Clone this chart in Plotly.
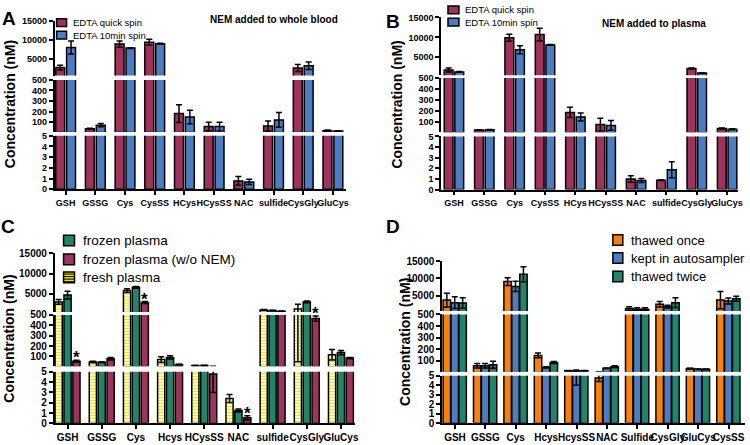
import plotly.graph_objects as go

W, H = 750, 445
FONT = "Liberation Sans, Arial, sans-serif"

# ---------------- data ----------------
cats_AB = ["GSH", "GSSG", "Cys", "CysSS", "HCys", "HCysSS", "NAC", "sulfide", "CysGly", "GluCys"]

a_quick = [2600, 37, 8800, 9300, 180, 58, 0.78, 62, 2500, 18]
a_quick_err = [600, 3, 800, 800, 85, 40, 0.4, 48, 900, 6]
a_10min = [7900, 70, 7750, 8900, 148, 58, 0.68, 120, 3100, 14]
a_10min_err = [1700, 15, 80, 100, 65, 40, 0.25, 70, 1000, 4]

b_quick = [1800, 26, 9900, 10700, 186, 76, 1.0, 0.88, 2200, 38]
b_quick_err = [500, 2, 900, 1600, 47, 57, 0.3, 0.03, 100, 6]
b_10min = [1350, 27, 6900, 8100, 144, 67, 0.86, 1.86, 1050, 32]
b_10min_err = [100, 2, 1000, 100, 36, 45, 0.18, 0.75, 80, 4]

cats_C = ["GSH", "GSSG", "Cys", "Hcys", "HCysSS", "NAC", "sulfide", "CysGly", "GluCys"]
c_fresh = [3000, 47, 5800, 70, 12, 2.42, 1000, 1250, 116]
c_fresh_err = [600, 8, 480, 28, 2, 0.38, 150, 1200, 50]
c_frozen = [4700, 45, 6600, 91, 14, 1.25, 850, 3000, 137]
c_frozen_err = [950, 3, 200, 15, 2, 0.14, 60, 200, 20]
c_nonem = [55, 79, 2850, 23, 4.8, 0.54, 700, 465, 84]
c_nonem_err = [8, 12, 250, 3, 1.8, 0.2, 60, 25, 5]
c_star_idx = [0, 2, 5, 7]

cats_D = ["GSH", "GSSG", "Cys", "Hcys", "HcysSS", "NAC", "Sulfide", "CysGly", "GluCys", "CysSS"]
d_once = [3700, 58, 9070, 147, 15, 4.76, 1240, 2460, 33, 3700]
d_once_err = [2000, 20, 1130, 20, 2, 0.35, 500, 800, 4, 2500]
d_auto = [2940, 58, 7660, 44, 12, 36, 1050, 1810, 27, 3420]
d_auto_err = [1700, 20, 1500, 5, 8, 3, 400, 400, 2, 900]
d_twice = [2850, 67, 11220, 86, 15, 50, 1050, 2940, 27, 4070]
d_twice_err = [1500, 30, 2200, 8, 1, 8, 400, 1400, 3, 750]

seg_ranges = [[0, 5], [5, 500], [500, 15000]]
seg_ticks = [[0, 1, 2, 3, 4, 5], [100, 200, 300, 400, 500], [5000, 10000, 15000]]
seg_ticktext = [[str(v) for v in t] for t in seg_ticks]

# ---------------- styles ----------------
MAROON = "#A0325C"
BLUE = "#4A7EC4"
GREEN = "#1E8669"
ORANGE = "#FF8000"
YELLOW = "#EDE500"
CLEAR = "rgba(0,0,0,0)"


def ydom(top, bot):
    return [1 - bot / H, 1 - top / H]


def xdom(l, r):
    return [l / W, r / W]


panels = [
    dict(xpx=(55, 348), xrange=[-0.37, 9.43], segs=[(133.3, 188.3), (76, 129.5), (15, 71.5)],
         cats=cats_AB, fs=9, width=0.3, starts=[-0.333, 0.033],
         series=[(a_quick, a_quick_err, MAROON, False), (a_10min, a_10min_err, BLUE, False)]),
    dict(xpx=(444, 743), xrange=[-0.425, 9.36], segs=[(134, 188.7), (74, 129.7), (11.7, 71.2)],
         cats=cats_AB, fs=9, width=0.29, starts=[-0.32, 0.03],
         series=[(b_quick, b_quick_err, MAROON, False), (b_10min, b_10min_err, BLUE, False)]),
    dict(xpx=(55, 357), xrange=[-0.378, 8.4], segs=[(376, 429), (317.5, 370.3), (254.3, 314.5)],
         cats=cats_C, fs=10, width=0.21, starts=[-0.365, -0.105, 0.155],
         series=[(c_fresh, c_fresh_err, YELLOW, True), (c_frozen, c_frozen_err, GREEN, False),
                 (c_nonem, c_nonem_err, MAROON, False)]),
    dict(xpx=(445, 750), xrange=[-0.425, 9.54], segs=[(380, 429), (317, 376), (262.3, 313.5)],
         cats=cats_D, fs=10, width=0.245, starts=[-0.39, -0.13, 0.13],
         series=[(d_once, d_once_err, ORANGE, False), (d_auto, d_auto_err, BLUE, False),
                 (d_twice, d_twice_err, GREEN, False)]),
]

fig = go.Figure()
layout = {}


def axname(letter, i):
    return letter if i == 1 else f"{letter}{i}"


def axkey(letter, i):
    return f"{letter}axis" if i == 1 else f"{letter}axis{i}"


seg_names = {}
for pi, p in enumerate(panels):
    xi = pi + 1
    xname = axname("x", xi)
    names = []
    for s in range(3):
        yi = 3 * pi + s + 1
        yname = axname("y", yi)
        names.append(yname)
        lo = seg_ranges[s][0]
        layout[axkey("y", yi)] = dict(
            domain=ydom(*p["segs"][s]), range=seg_ranges[s], anchor=xname,
            tickvals=seg_ticks[s], ticktext=seg_ticktext[s],
            ticks="outside", ticklen=4, tickwidth=1.5, tickcolor="black",
            showline=True, linecolor="black", linewidth=1.5, showgrid=False, zeroline=False,
            tickfont=dict(family=FONT, size=p["fs"], color="black", weight="bold"),
        )
        for (vals, errs, color, striped), start in zip(p["series"], p["starts"]):
            # a point is drawn in this segment only if its bar or error bar reaches into it
            ys = [v if v + e > lo else None for v, e in zip(vals, errs)]
            inside = [v > lo for v in vals]
            marker = dict(
                color=[color if k else CLEAR for k in inside],
                line=dict(color="black", width=[1.5 if k else 0 for k in inside]),
            )
            if striped:
                marker["pattern"] = dict(
                    shape=["-" if k else "" for k in inside], fgcolor="black",
                    bgcolor=[color if k else CLEAR for k in inside],
                    size=3, solidity=0.45, fillmode="replace",
                )
            fig.add_trace(go.Bar(
                x=p["cats"], y=ys, width=p["width"], offset=start,
                error_y=dict(type="data", array=errs, visible=True, color="black", thickness=1.5, width=3),
                marker=marker, xaxis=xname, yaxis=yname, showlegend=False,
            ))
    seg_names[pi] = names
    layout[axkey("x", xi)] = dict(
        domain=xdom(*p["xpx"]), range=p["xrange"], anchor=names[0], type="category",
        ticks="outside", ticklen=4, tickwidth=1.5, tickcolor="black", tickangle=0,
        showline=True, linecolor="black", linewidth=1.5, showgrid=False, zeroline=False,
        tickfont=dict(family=FONT, size=p["fs"], color="black", weight="bold"),
    )

annotations = []
shapes = []


def px2paper(x, y):
    return x / W, 1 - y / H


def text_ann(x, y, text, size, bold=False, xanchor="center", angle=0):
    px, py = px2paper(x, y)
    annotations.append(dict(
        x=px, y=py, xref="paper", yref="paper", text=text, showarrow=False,
        xanchor=xanchor, yanchor="middle", textangle=angle,
        font=dict(family=FONT, size=size, color="black", weight="bold" if bold else "normal"),
    ))


# panel letters
for letter, (x, y) in zip("ABCD", [(9, 13), (396, 16), (8, 227), (396, 227)]):
    text_ann(x, y, letter, 19, bold=True)

# titles
text_ann(276, 14, "NEM added to whole blood", 10, bold=True)
text_ann(658, 17.5, "NEM added to plasma", 10, bold=True)

# y titles
for x, y in [(10, 101), (400, 101), (9, 342), (407, 345)]:
    text_ann(x, y, "Concentration (nM)", 14, bold=True, angle=-90)


# legends (manual)
def swatch(x0, y0, x1, y1, color, striped=False):
    a, b = px2paper(x0, y0)
    c, d = px2paper(x1, y1)
    shapes.append(dict(type="rect", xref="paper", yref="paper", x0=a, y0=d, x1=c, y1=b,
                       fillcolor=color, line=dict(color="black", width=1.5)))
    if striped:
        yy = y0 + 2
        while yy < y1 - 1:
            e, f = px2paper(x0, yy)
            g, _ = px2paper(x1, yy)
            shapes.append(dict(type="line", xref="paper", yref="paper", x0=e, y0=f, x1=g, y1=f,
                               line=dict(color="black", width=1)))
            yy += 2.6


legend_A = [("EDTA quick spin", MAROON, 17), ("EDTA 10min spin", BLUE, 30)]
for name, col, yc in legend_A:
    swatch(57, yc - 4, 67, yc + 4, col)
    text_ann(71, yc, name, 9.5, xanchor="left")

legend_B = [("EDTA quick spin", MAROON, 4), ("EDTA 10min spin", BLUE, 16.5)]
for name, col, yc in legend_B:
    swatch(451, yc - 4, 462, yc + 4, col)
    text_ann(466, yc, name, 9.5, xanchor="left")

legend_C = [("frozen plasma", GREEN, 241, False), ("frozen plasma (w/o NEM)", MAROON, 260.5, False),
            ("fresh plasma", YELLOW, 279, True)]
for name, col, yc, st in legend_C:
    swatch(64, yc - 5.5, 75, yc + 5.5, col, striped=st)
    text_ann(82, yc, name, 13.5, xanchor="left")

legend_D = [("thawed once", ORANGE, 240.5), ("kept in autosampler", BLUE, 259), ("thawed twice", GREEN, 278)]
for name, col, yc in legend_D:
    swatch(617, yc - 5.5, 627, yc + 5.5, col)
    text_ann(633, yc, name, 13, xanchor="left")

# significance stars on panel C (w/o NEM series)
pC = panels[2]
for idx in c_star_idx:
    top = c_nonem[idx] + c_nonem_err[idx]
    seg = 0 if top < 5 else (1 if top < 500 else 2)
    annotations.append(dict(
        x=idx + pC["starts"][2] + pC["width"] / 2, y=top, xref="x3", yref=seg_names[2][seg],
        text="*", showarrow=False, yanchor="bottom", yshift=-9,
        font=dict(family=FONT, size=17, color="black", weight="bold"),
    ))

fig.update_layout(
    width=W, height=H, margin=dict(l=0, r=0, t=0, b=0),
    paper_bgcolor="white", plot_bgcolor="white", showlegend=False,
    annotations=annotations, shapes=shapes,
    font=dict(family=FONT, color="black"),
    **layout,
)

fig.write_html("out.html", config={"displayModeBar": False},
               post_script="document.body.style.margin='0px';")
